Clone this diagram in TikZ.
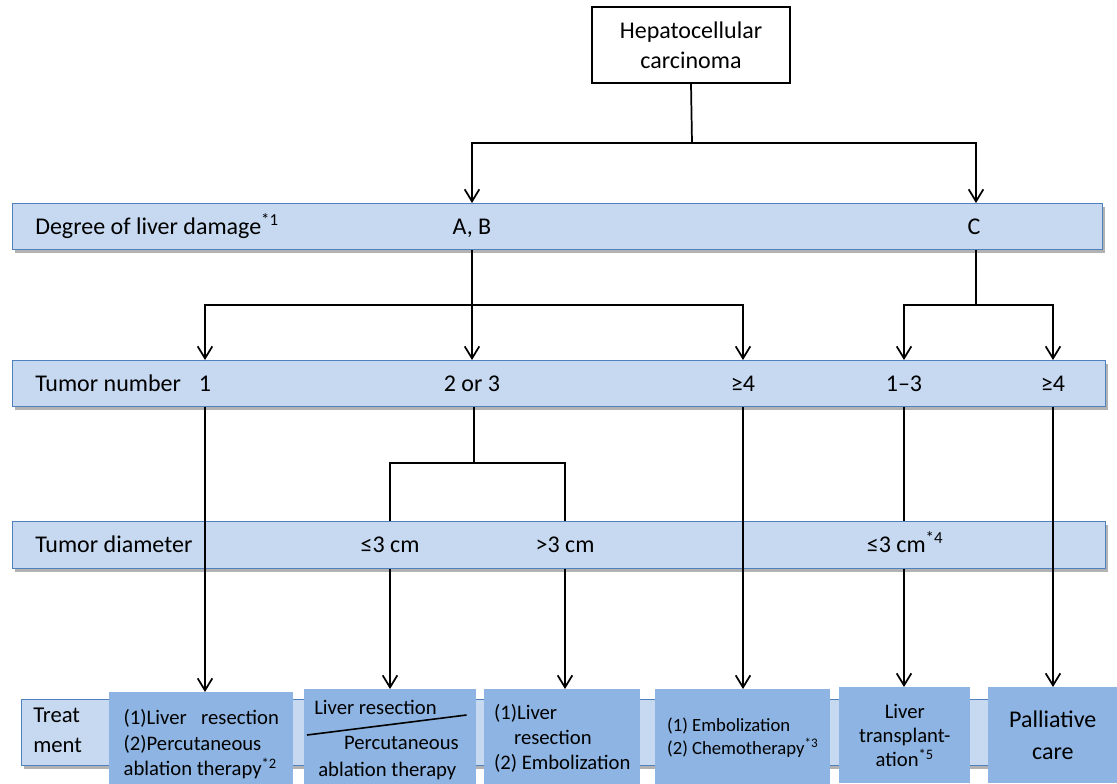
\documentclass[tikz,border=0pt]{standalone}
\usepackage{fontspec}
\setmainfont{Carlito}
\usepackage{xcolor}
\usepackage{tikz}
\usetikzlibrary{shapes,arrows,arrows.meta,shadows}

\definecolor{bandfill}{RGB}{198,217,241}
\definecolor{banddraw}{RGB}{79,129,189}
\definecolor{boxfill}{RGB}{141,180,226}

\begin{document}
\begin{tikzpicture}[x=0.75pt, y=-0.75pt, >={Straight Barb[length=9pt,width=11pt]}]
    \tikzstyle{band} = [rectangle, draw=banddraw, line width=1pt, fill=bandfill, anchor=north west,
        inner sep=0pt, drop shadow={shadow xshift=1.5pt, shadow yshift=-2.5pt, opacity=0.3, fill=black}]
    \tikzstyle{tag} = [font=\fontsize{18}{22}\selectfont, inner sep=0pt, anchor=base]
    \tikzstyle{treat} = [rectangle, fill=boxfill, anchor=north west, inner sep=0pt,
        align=center, font=\fontsize{15.5}{19}\selectfont]
    \tikzstyle{line} = [draw, line width=1.3pt, ->]
    \tikzstyle{link} = [draw, line width=1.3pt]

    \useasboundingbox (0,0) rectangle (1117,783);

    \node [draw, line width=1.3pt, minimum width=198*0.75pt, minimum height=76*0.75pt, align=center,
        font=\fontsize{18}{22.5}\selectfont] (hcc) at (691,45) {Hepatocellular\\carcinoma};

    % bands
    \node [band, minimum width=1090*0.75pt, minimum height=46*0.75pt] (damage) at (12,203) {};
    \node [band, minimum width=1093*0.75pt, minimum height=46*0.75pt] (number) at (12,360) {};
    \node [band, minimum width=1093*0.75pt, minimum height=47*0.75pt] (diameter) at (12,521) {};
    \node [band, minimum width=1086*0.75pt, minimum height=66*0.75pt] (treatment) at (21,699) {};

    \node [tag, anchor=base west] (damagetxt) at (35,234) {Degree of liver damage\textsuperscript{*1}};
    \node [tag] (ab) at (472,234) {A, B};
    \node [tag] (c) at (974,234) {C};

    \node [tag, anchor=base west] (numbertxt) at (35,391) {Tumor number};
    \node [tag] (n1) at (205,391) {1};
    \node [tag] (n23) at (472,391) {2 or 3};
    \node [tag] (n4a) at (743,391) {≥4};
    \node [tag] (n13) at (904,391) {1–3};
    \node [tag] (n4b) at (1053,391) {≥4};

    \node [tag, anchor=base west] (diametertxt) at (35,552) {Tumor diameter};
    \node [tag] (d3a) at (390,552) {≤3 cm};
    \node [tag] (d3b) at (565,552) {>3 cm};
    \node [tag] (d3c) at (905,552) {≤3 cm\textsuperscript{*4}};

    \node [tag, anchor=base west, align=left, font=\fontsize{17}{22.5}\selectfont] (treattxt) at (33,752) {Treat\\ment};

    % treatments
    \node [treat, align=left, minimum width=184*0.75pt, minimum height=104*0.75pt] (t1) at (109,692)
        {(1)Liver\hspace{0.7em}resection\\(2)Percutaneous\\ablation therapy\textsuperscript{*2}};
    \node [treat, minimum width=172*0.75pt, minimum height=100*0.75pt] (t2) at (304,689) {};
    \node [treat, align=left, minimum width=156*0.75pt, minimum height=98*0.75pt] (t3) at (484,689)
        {(1)Liver\\\hspace*{15pt}resection\\(2) Embolization};
    \node [treat, align=left, minimum width=175*0.75pt, minimum height=96*0.75pt,
        font=\fontsize{14}{17.25}\selectfont] (t4) at (655,689) {(1) Embolization\\(2) Chemotherapy\textsuperscript{*3}};
    \node [treat, minimum width=131*0.75pt, minimum height=96*0.75pt, font=\fontsize{15.5}{18}\selectfont] (t5) at (839,687)
        {Liver\\transplant-\\ation\textsuperscript{*5}};
    \node [treat, minimum width=129*0.75pt, minimum height=96*0.75pt, font=\fontsize{18}{24}\selectfont] (t6) at (988,687)
        {Palliative\\care};

    \node [tag, anchor=base west, font=\fontsize{15.5}{19}\selectfont] (t2a) at (314,714) {Liver resection};
    \node [tag, anchor=base east, font=\fontsize{15.5}{19}\selectfont] (t2b) at (459,749) {Percutaneous};
    \node [tag, anchor=base west, font=\fontsize{15.5}{19}\selectfont] (t2c) at (318,776) {ablation therapy};
    \draw [line width=1.2pt] ([shift={(3,46)}]t2.north west) -- ([shift={(-10,26)}]t2.north east);

    % connectors
    \coordinate (split) at (692,143);
    \coordinate (splitab) at (472,305);
    \coordinate (splitc) at (976,305);
    \coordinate (split23) at (474,463);

    \path [link] (hcc.south) -- (split);
    \path [line] (split) -| (ab |- damage.north);
    \path [line] (split) -| ([xshift=1.5pt]c |- damage.north);

    \path [link] (ab |- damage.south) -- (splitab);
    \path [line] (splitab) -| (n1 |- number.north);
    \path [line] (splitab) -- (n23 |- number.north);
    \path [line] (splitab) -| (n4a |- number.north);

    \path [link] ([xshift=1.5pt]c |- damage.south) -- (splitc);
    \path [line] (splitc) -| (n13 |- number.north);
    \path [line] (splitc) -| (n4b |- number.north);

    \path [link] (split23 |- number.south) -- (split23);
    \path [link] (split23) -| (d3a |- diameter.north);
    \path [link] (split23) -| (d3b |- diameter.north);
    \path [link] (n13 |- number.south) -- (n13 |- diameter.north);

    \path [line] (n1 |- number.south) -- (n1 |- t1.north);
    \path [line] (d3a |- diameter.south) -- (d3a |- t2.north);
    \path [line] (d3b |- diameter.south) -- (d3b |- t3.north);
    \path [line] (n4a |- number.south) -- (n4a |- t4.north);
    \path [line] (n13 |- diameter.south) -- (n13 |- t5.north);
    \path [line] (n4b |- number.south) -- (n4b |- t6.north);
\end{tikzpicture}
\end{document}
